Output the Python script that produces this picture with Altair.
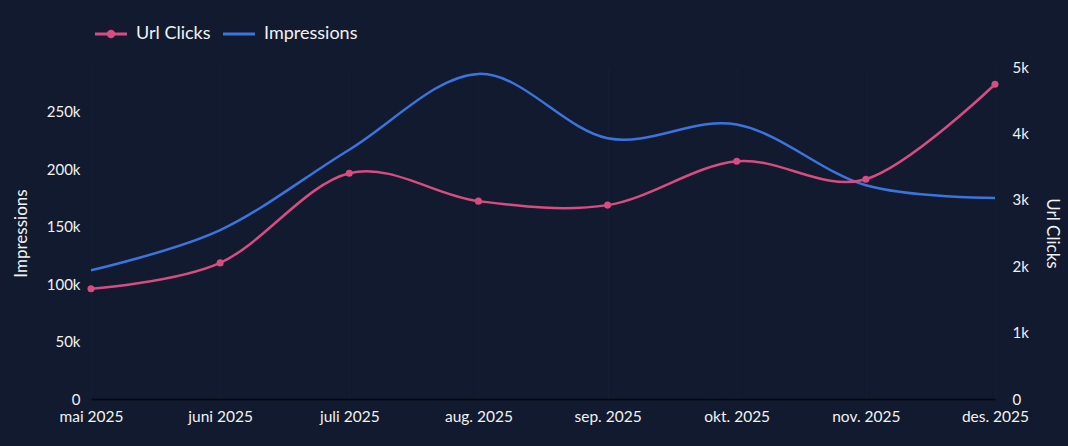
import altair as alt
import pandas as pd

months = ["mai 2025", "juni 2025", "juli 2025", "aug. 2025", "sep. 2025", "okt. 2025", "nov. 2025", "des. 2025"]
impressions = [112000, 147000, 217000, 283000, 227000, 239000, 186000, 175000]
url_clicks = [1660, 2050, 3400, 2980, 2920, 3580, 3310, 4740]

BG = "#111a2e"
PINK = "#d94c82"
BLUE = "#3b74de"
TXT = "#f2f2f2"
FONT = "Lato"
INTERP = "cardinal"

df = pd.DataFrame({"month": months, "Impressions": impressions, "Url Clicks": url_clicks})

xenc = alt.X("month:N", sort=months, title=None,
             scale=alt.Scale(domain=months, type="point", padding=0),
             axis=alt.Axis(labelAngle=0, labelFontSize=15.5, labelColor=TXT, labelFont=FONT,
                           labelPadding=10, ticks=False, domainColor="#05080f", domainWidth=1.5,
                           grid=True, gridColor="#141d33", gridWidth=1))

LBL = "datum.value == 0 ? '0' : format(datum.value, '~s')"

imp = alt.Chart(df).mark_line(color=BLUE, strokeWidth=2.5, interpolate=INTERP).encode(
    x=xenc,
    y=alt.Y("Impressions:Q", scale=alt.Scale(domain=[0, 289000], nice=False),
            axis=alt.Axis(values=[0, 50000, 100000, 150000, 200000, 250000], labelExpr=LBL,
                          orient="left", grid=False, domain=False, ticks=False,
                          labelFontSize=15, labelColor=TXT, labelFont=FONT, labelPadding=11,
                          title="Impressions", titleFontSize=17, titleColor=TXT, titleFont=FONT,
                          titleFontWeight="normal", titlePadding=16)),
)

click_axis = alt.Axis(values=[0, 1000, 2000, 3000, 4000, 5000], labelExpr=LBL,
                      orient="right", grid=False, domain=False, ticks=False,
                      labelFontSize=15, labelColor=TXT, labelFont=FONT, labelPadding=17,
                      title="Url Clicks", titleFontSize=17, titleColor=TXT, titleFont=FONT,
                      titleFontWeight="normal", titlePadding=14)
cy = alt.Y("Url Clicks:Q", scale=alt.Scale(domain=[0, 5000], nice=False), axis=click_axis)

clicks_line = alt.Chart(df).mark_line(color=PINK, strokeWidth=2.5, interpolate=INTERP).encode(x=xenc, y=cy)
clicks_pts = alt.Chart(df).mark_circle(color=PINK, size=50, opacity=1).encode(x=xenc, y=cy)
clicks = alt.layer(clicks_line, clicks_pts)

one = pd.DataFrame({"a": [0]})
leg_y = -33
leg = alt.layer(
    alt.Chart(one).mark_rule(color=PINK, strokeWidth=3).encode(x=alt.value(4), x2=alt.value(36), y=alt.value(leg_y)),
    alt.Chart(one).mark_circle(color=PINK, size=70, opacity=1).encode(x=alt.value(20), y=alt.value(leg_y)),
    alt.Chart(one).mark_text(text="Url Clicks", align="left", baseline="middle", fontSize=18, font=FONT, color=TXT).encode(x=alt.value(45), y=alt.value(leg_y)),
    alt.Chart(one).mark_rule(color=BLUE, strokeWidth=3).encode(x=alt.value(132), x2=alt.value(164), y=alt.value(leg_y)),
    alt.Chart(one).mark_text(text="Impressions", align="left", baseline="middle", fontSize=18, font=FONT, color=TXT).encode(x=alt.value(173), y=alt.value(leg_y)),
)

chart = alt.layer(imp, clicks, leg).resolve_scale(y="independent").properties(
    width=904, height=332, background=BG,
    padding={"left": 91, "top": 67, "right": 73, "bottom": 47},
    autosize=alt.AutoSizeParams(type="none"),
).configure_view(stroke=None)

chart.save("out.html", embed_options={"renderer": "svg", "actions": False})
